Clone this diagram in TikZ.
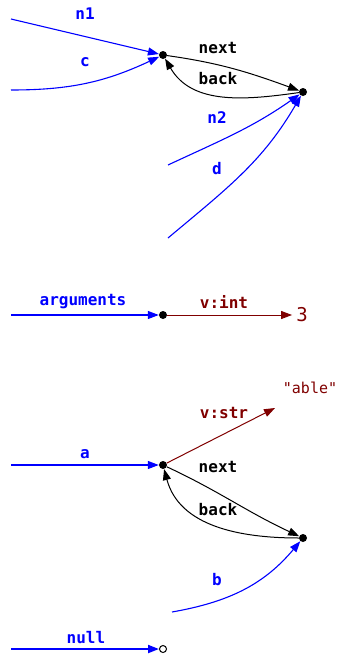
\documentclass[tikz,border=0pt]{standalone}
\usepackage{fontspec}
\setmonofont{DejaVu Sans Mono}
\usetikzlibrary{arrows.meta, positioning}
\definecolor{refblue}{HTML}{0000FF}
\definecolor{valred}{HTML}{800000}

\begin{document}
\begin{tikzpicture}[x=1pt, y=1pt,
  >={Triangle[length=11pt, width=8pt]},
  dot/.style={circle, fill=black, inner sep=0pt, minimum size=8pt},
  hole/.style={circle, draw=black, fill=white, line width=1pt,
    inner sep=0pt, minimum size=7pt},
  ref/.style={->, color=refblue, line width=1.1pt},
  link/.style={->, color=black, line width=1pt},
  val/.style={->, color=valred, line width=1pt},
  lbl/.style={font=\ttfamily\bfseries\fontsize{16}{18}\selectfont},
  lit/.style={font=\ttfamily\fontsize{15}{17}\selectfont, text=valred},
]

% Frame
\useasboundingbox (0,0) rectangle (337,-656);

% ---- Two-element list ----
\node[dot] (top1) at (163,-55) {};
\node[dot] (top2) at (303,-92) {};
\coordinate (n1start) at (11,-19);
\coordinate (cstart) at (11,-90);
\coordinate (n2start) at (168,-165);
\coordinate (dstart) at (168,-238);

\draw[ref] (n1start) -- (top1);
\draw[ref] (cstart) to[out=0, in=205] (top1);
\draw[link] (top1) to[out=-8, in=160] (top2);
\draw[link] (top2) to[out=188, in=-60] (top1);
\draw[ref] (n2start) to[out=25, in=215] (top2);
\draw[ref] (dstart) to[out=40, in=240] (top2);

\node[lbl, text=refblue] (ln1) at (85,-14) {n1};
\node[lbl, text=refblue] (lc) at (85,-62) {c};
\node[lbl] (lnext1) at (218,-48) {next};
\node[lbl] (lback1) at (218,-79) {back};
\node[lbl, text=refblue] (ln2) at (217,-118) {n2};
\node[lbl, text=refblue] (ld) at (217,-169) {d};

% ---- Int value ----
\node[dot] (mid) at (163,-315) {};
\coordinate (argstart) at (11,-315);
\node[font=\ttfamily\fontsize{19}{21}\selectfont, text=valred,
  inner sep=4pt] (three) at (302,-315) {3};

\draw[ref] (argstart) -- (mid);
\draw[val] (mid) -- (three);

\node[lbl, text=refblue] (largs) at (83,-302) {arguments};
\node[lbl, text=valred] (lvint) at (224,-302) {v:int};

% ---- List with string value ----
\node[dot] (low1) at (163,-465) {};
\node[dot] (low2) at (303,-538) {};
\coordinate (astart) at (11,-465);
\coordinate (bstart) at (172,-612);
\coordinate (strend) at (275,-408);

\draw[ref] (astart) -- (low1);
\draw[val] (low1) -- (strend);
\draw[link] (low1) to[out=-25, in=155] (low2);
\draw[link] (low2) to[out=180, in=-75] (low1);
\draw[ref] (bstart) to[out=10, in=230] (low2);

\node[lbl, text=refblue] (la) at (85,-454) {a};
\node[lbl, text=valred] (lvstr) at (224,-413) {v:str};
\node[lit] (lable) at (310,-388) {"able"};
\node[lbl] (lnext2) at (218,-467) {next};
\node[lbl] (lback2) at (218,-510) {back};
\node[lbl, text=refblue] (lb) at (217,-580) {b};

% ---- Null ----
\node[hole] (nil) at (163,-649) {};
\coordinate (nullstart) at (11,-649);
\draw[ref, line width=2pt] (nullstart) -- (nil);
\node[lbl, text=refblue] (lnull) at (86,-638) {null};

\end{tikzpicture}
\end{document}
